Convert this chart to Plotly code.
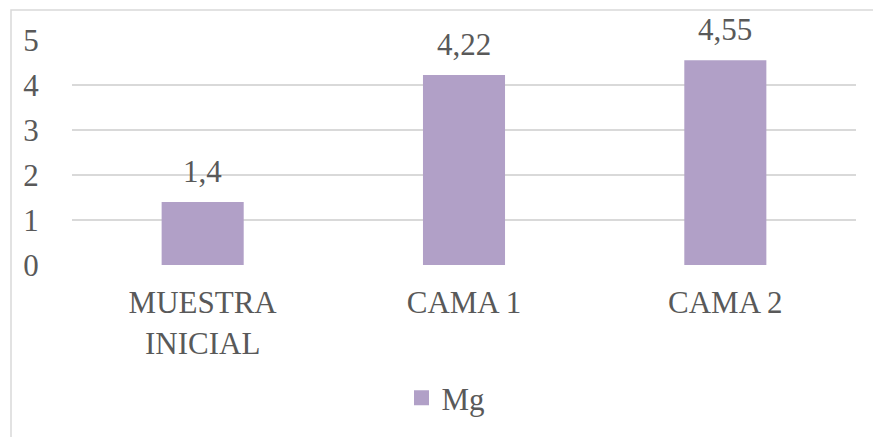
import plotly.graph_objects as go

categories = ["MUESTRA<br>INICIAL", "CAMA 1", "CAMA 2"]
mg_values = [1.4, 4.22, 4.55]
value_labels = ["1,4", "4,22", "4,55"]
y_ticks = [0, 1, 2, 3, 4, 5]

FONT = "Liberation Serif"
TEXT = "#595959"
GRID = "#D9D9D9"
BAR = "#B1A0C7"

W, H = 873, 437
L, R, T, B = 72, 17, 40, 172

fig = go.Figure()
fig.add_trace(go.Bar(
    x=categories, y=mg_values, name="Mg", showlegend=False,
    marker=dict(color=BAR, line=dict(width=0)),
))
# legend entry with a larger square swatch
fig.add_trace(go.Scatter(
    x=[None], y=[None], mode="markers", name="Mg",
    marker=dict(symbol="square", size=15, color=BAR),
))

# value labels above each bar
for cat, val, lab in zip(categories, mg_values, value_labels):
    fig.add_annotation(x=cat, y=val, text=lab, showarrow=False,
                       xanchor="center", yanchor="bottom", yshift=11,
                       font=dict(family=FONT, size=31, color=TEXT))

plot_h = H - T - B
plot_w = W - L - R

fig.update_layout(
    width=W, height=H,
    margin=dict(l=L, r=R, t=T, b=B, pad=0),
    paper_bgcolor="white", plot_bgcolor="white",
    font=dict(family=FONT, size=31, color=TEXT),
    bargap=0.686,
    showlegend=True,
    legend=dict(
        orientation="h", x=(446 - L) / plot_w, y=(T + plot_h - 398) / plot_h,
        xanchor="center", yanchor="middle",
        font=dict(family=FONT, size=31, color=TEXT),
        itemwidth=30,
    ),
    xaxis=dict(showgrid=False, showline=False, zeroline=False,
               ticks="outside", ticklen=10, tickcolor="rgba(0,0,0,0)",
               tickfont=dict(family=FONT, size=31, color=TEXT)),
    yaxis=dict(range=[0, 5], tickvals=y_ticks, showgrid=True, gridcolor=GRID,
               gridwidth=1.5, zeroline=False, showline=False,
               ticks="outside", ticklen=26, tickcolor="rgba(0,0,0,0)",
               tickfont=dict(family=FONT, size=31, color=TEXT)),
)

# light outer frame of the chart area
fig.add_shape(type="rect", xref="paper", yref="paper",
              x0=(11 - L) / plot_w, x1=(W + 20 - L) / plot_w,
              y0=(T + plot_h - (H + 20)) / plot_h, y1=(T + plot_h - 10) / plot_h,
              line=dict(color=GRID, width=1.5), fillcolor="rgba(0,0,0,0)", layer="below")

fig.write_html("out.html")
